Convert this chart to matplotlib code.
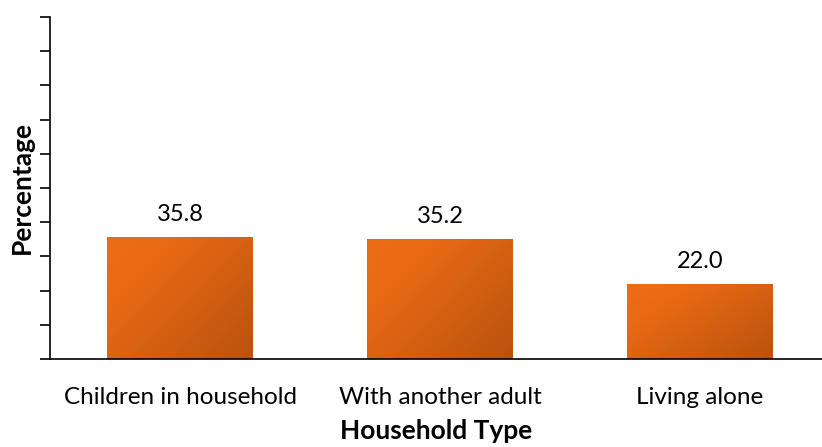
import matplotlib.pyplot as plt
import numpy as np
from matplotlib.colors import LinearSegmentedColormap

plt.rcParams['font.family'] = ['Lato', 'DejaVu Sans']

household = ["Children in household", "With another adult", "Living alone"]
percentage = [35.8, 35.2, 22.0]

fig = plt.figure(figsize=(8.22, 4.47), dpi=100)
ax = fig.add_axes([50 / 822, 88 / 447, 772 / 822, 342 / 447])

cmap = LinearSegmentedColormap.from_list("orange_grad", [(0, "#EE6C16"), (0.25, "#EA6A14"), (1, "#B9520F")])
width = 0.56
x = np.arange(len(household))
bars = ax.bar(x, percentage, width=width, color="none", edgecolor="none")

# diagonal gradient fill inside each bar: light top-left, dark bottom-right
gy, gx = np.mgrid[0:1:100j, 0:1:100j]
grad = gx * 0.55 + gy * 0.45
for b in bars:
    x0, y0 = b.get_x(), b.get_y()
    w, h = b.get_width(), b.get_height()
    im = ax.imshow(grad, cmap=cmap, extent=[x0, x0 + w, y0, y0 + h],
                   origin="upper", aspect="auto", zorder=2, vmin=0, vmax=1)
    im.set_clip_path(b)

for xi, v in zip(x, percentage):
    ax.annotate(f"{v:.1f}", (xi, v), xytext=(0, 11.5), textcoords="offset points",
                ha="center", va="baseline", fontsize=17)

ax.set_xlim(-0.5, 2.469)
ax.set_ylim(0, 100)
ax.set_yticks(np.arange(0, 101, 10))
ax.set_yticklabels([])
ax.set_xticks(x)
ax.set_xticklabels(household, fontsize=17.5)
ax.tick_params(axis="x", length=0, pad=20)
ax.tick_params(axis="y", length=7, width=1.2, direction="out")
ax.spines["top"].set_visible(False)
ax.spines["right"].set_visible(False)
ax.spines["left"].set_linewidth(1.2)
ax.spines["bottom"].set_linewidth(1.2)

ax.set_xlabel("Household Type", fontsize=19, fontweight="bold", labelpad=8)
ax.set_ylabel("Percentage", fontsize=19, fontweight="bold", labelpad=1)

fig.savefig("out.png", dpi=100)
